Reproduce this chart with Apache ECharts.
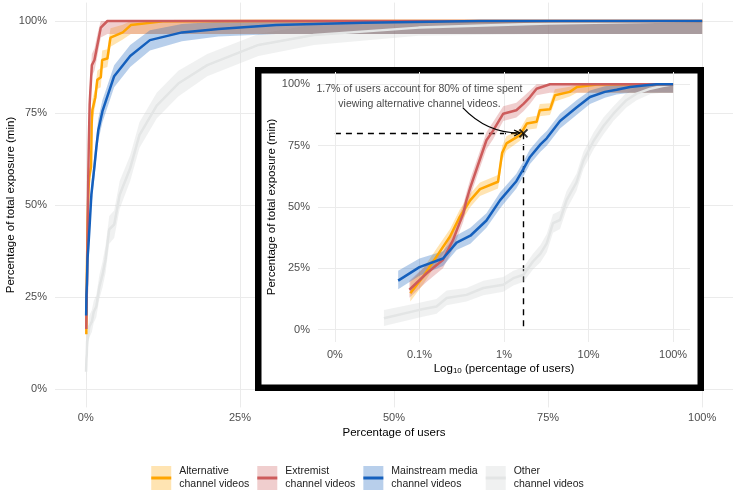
<!DOCTYPE html>
<html>
<head>
<meta charset="utf-8">
<title>Exposure concentration</title>
<style>
	* { margin: 0; padding: 0; }
	html, body { width: 100%; height: 100%; background: #fff; }
	#box { width: 735px; height: 491px; }
</style>
</head>
<body>
<div id="box"></div>
<script src="https://cdn.jsdelivr.net/npm/echarts@6/dist/echarts.min.js"></script>
<script>
// series names, as in the legend
var names = ['Alternative\nchannel videos', 'Extremist\nchannel videos', 'Mainstream media\nchannel videos', 'Other\nchannel videos'];

// x = percentage of users, y = cumulative share of exposure, lo/hi = band
var altX = [0.078, 0.111, 0.159, 0.23, 0.30, 0.40, 0.52, 0.85, 0.95, 1.07, 1.55, 1.86, 2.43, 2.65, 3.5, 4.0, 6.0, 7.3, 12.5, 30, 60, 100];
var altY = [14.9, 21.7, 29.8, 38, 46, 52.8, 57.3, 60.3, 72, 75.9, 79.3, 84, 84.7, 89.4, 89.8, 95.5, 96.9, 98.9, 99.9, 100, 100, 100];
var altLo = [11.5, 18.5, 27, 35, 43, 50, 54.5, 57.5, 69, 73, 77, 81.5, 82, 87, 87.5, 93, 95, 96.5, 96.5, 96.5, 96.5, 96.5];
var altHi = [19.5, 25, 33, 41, 49, 55.5, 60, 63, 75, 78.8, 81.8, 86.5, 87.2, 92, 92.3, 98, 99, 100, 100, 100, 100, 100];

var extX = [0.076, 0.122, 0.19, 0.25, 0.33, 0.36, 0.40, 0.48, 0.62, 0.74, 0.98, 1.4, 1.7, 2.03, 2.43, 3.5, 100];
var extY = [16.3, 23, 28.5, 36.6, 47.4, 52.8, 58, 66, 77.2, 81, 88, 89.4, 92, 94.8, 98.2, 100, 100];
var extLo = [13, 19.5, 25, 33, 44, 49.5, 54.5, 62.5, 73.5, 77.5, 85, 86.5, 89, 92, 95.5, 96.5, 96.5];
var extHi = [20, 26.5, 32, 40, 51, 56, 61.5, 69.5, 80.5, 84.5, 91, 92.5, 95, 97.5, 100, 100, 100];

var mainX = [0.056, 0.1, 0.19, 0.275, 0.4, 0.62, 0.9, 1.4, 1.7, 2.03, 2.7, 3.2, 4.6, 7.2, 10.4, 15.6, 21.5, 30.9, 45, 64, 100];
var mainY = [20, 25.5, 29, 35.5, 38.3, 44.5, 52.8, 60.5, 65.5, 70.4, 75.5, 78, 85, 90.5, 94.8, 96.9, 97.8, 98.9, 99.5, 100, 100];
var mainLo = [16.5, 22, 26, 32.5, 35, 41.5, 49.5, 57.5, 62.5, 67.5, 72.5, 75, 82, 87.5, 92, 94.5, 95.8, 96.5, 96.5, 96.5, 96.5];
var mainHi = [24, 29, 32, 38.5, 41.5, 47.5, 56, 63.5, 68.5, 73.5, 78.5, 81, 88, 93.5, 97.5, 99.2, 99.8, 100, 100, 100, 100];

var othX = [0.038, 0.1, 0.159, 0.21, 0.36, 0.57, 0.98, 1.29, 1.7, 2.2, 2.7, 3.2, 3.8, 4.6, 5.5, 7.2, 8.7, 11.5, 15, 19.7, 28, 37, 54, 75, 100];
var othY = [4.7, 8.1, 9.5, 12.9, 14.2, 17, 18.3, 21, 22.4, 27.8, 31, 35.2, 43.4, 44.7, 52.8, 60, 69, 77, 83, 88, 93.5, 96.2, 98.2, 99.3, 100];
var othLo = [1.5, 5, 6.5, 10, 11.5, 14, 15.5, 18, 19.5, 24.5, 27.5, 31.5, 39.5, 41, 49, 56.5, 65.5, 73.5, 79.5, 85, 90.5, 93.5, 96, 96.5, 96.5];
var othHi = [8, 11, 12.5, 16, 17, 20, 21.5, 24, 25.5, 31, 34.5, 39, 47, 48.5, 56.5, 63.5, 72.5, 80.5, 86.5, 91, 96.5, 99, 100, 100, 100];

// axis ticks
var mainTicks = [0, 25, 50, 75, 100];
var logTicks = [0.01, 0.1, 1, 10, 100];
var logTickText = ['0%', '0.1%', '1%', '10%', '100%'];

// annotation: marked point, note, and curved arrow (start, bend, end)
var markPt = [1.7, 80];
var noteAt = [0.1, 94.9];
var noteText = '1.7% of users account for 80% of time spent\nviewing alternative channel videos.';
var arrowPts = [[0.325, 90.5], [0.63, 80], [1.55, 80.2]];

var lineColors = ['#FFA500', '#CD5C5C', '#1560BD', '#E3E5E5'];
var fillColors = ['rgba(255,165,0,0.3)', 'rgba(205,92,92,0.3)', 'rgba(21,96,189,0.3)', 'rgba(205,210,210,0.3)'];

var groups = [
	[altX, altY, altLo, altHi],
	[extX, extY, extLo, extHi],
	[mainX, mainY, mainLo, mainHi],
	[othX, othY, othLo, othHi]
];
// drawing order: other first, mainstream last
var drawOrder = [3, 0, 1, 2];

var font = 'Liberation Sans, Arial, sans-serif';

function bandRender(xs, lo, hi, fill) {
	return function(params, api) {
		if (params.dataIndex !== 0) return;
		var pts = [];
		for (var i = 0; i < xs.length; i++) pts.push(api.coord([xs[i], hi[i]]));
		for (var j = xs.length - 1; j >= 0; j--) pts.push(api.coord([xs[j], lo[j]]));
		return { type: 'polygon', shape: { points: pts }, style: { fill: fill } };
	};
}

function arrowRender(params, api) {
	if (params.dataIndex !== 0) return;
	var p0 = api.coord(arrowPts[0]);
	var c = api.coord(arrowPts[1]);
	var p1 = api.coord(arrowPts[2]);
	var dx = p1[0] - c[0], dy = p1[1] - c[1];
	var len = Math.sqrt(dx * dx + dy * dy);
	var ux = dx / len, uy = dy / len;
	var hl = 6, hw = 3;
	var a = [p1[0] - ux * hl - uy * hw, p1[1] - uy * hl + ux * hw];
	var b = [p1[0] - ux * hl + uy * hw, p1[1] - uy * hl - ux * hw];
	return {
		type: 'group',
		children: [{
			type: 'bezierCurve',
			shape: { x1: p0[0], y1: p0[1], cpx1: c[0], cpy1: c[1], x2: p1[0], y2: p1[1] },
			style: { stroke: '#000', lineWidth: 1.2, fill: null }
		}, {
			type: 'polyline',
			shape: { points: [a, p1, b] },
			style: { stroke: '#000', lineWidth: 1.2, fill: null }
		}]
	};
}

function logLabel(v) {
	for (var i = 0; i < logTicks.length; i++) {
		if (Math.abs(Math.log10(v) - Math.log10(logTicks[i])) < 0.01) return logTickText[i];
	}
	return '';
}

var series = [];
[0, 1].forEach(function(g) {
	var zb = g === 0 ? 2 : 7;
	drawOrder.forEach(function(k) {
		var d = groups[k];
		series.push({
			name: names[k],
			type: 'custom',
			xAxisIndex: g,
			yAxisIndex: g,
			z: zb,
			silent: true,
			clip: true,
			renderItem: bandRender(d[0], d[2], d[3], fillColors[k]),
			encode: { x: 0, y: [1, 2] },
			data: d[0].map(function(x, i) { return [x, d[2][i], d[3][i]]; })
		});
	});
	drawOrder.forEach(function(k) {
		var d = groups[k];
		series.push({
			name: names[k],
			type: 'line',
			xAxisIndex: g,
			yAxisIndex: g,
			z: zb + 1,
			silent: true,
			symbol: 'none',
			color: lineColors[k],
			lineStyle: { width: 2.5, color: lineColors[k] },
			data: d[0].map(function(x, i) { return [x, d[1][i]]; })
		});
	});
});

// dashed guides and cross in the inset
series.push({
	type: 'scatter',
	xAxisIndex: 1,
	yAxisIndex: 1,
	z: 9,
	silent: true,
	symbol: 'path://M0,0L10,10M10,0L0,10',
	symbolSize: 8,
	itemStyle: { color: 'rgba(0,0,0,0)', borderColor: '#000', borderWidth: 2 },
	data: [markPt],
	markLine: {
		silent: true,
		symbol: 'none',
		label: { show: false },
		lineStyle: { color: '#000', width: 1.4, type: [6, 5] },
		data: [
			[{ coord: [0.01, 80] }, { coord: markPt }],
			[{ coord: markPt }, { coord: [1.7, 0] }]
		]
	}
});
series.push({
	type: 'custom',
	xAxisIndex: 1,
	yAxisIndex: 1,
	z: 9,
	silent: true,
	renderItem: arrowRender,
	data: arrowPts
});
series.push({
	type: 'scatter',
	xAxisIndex: 1,
	yAxisIndex: 1,
	z: 9,
	silent: true,
	symbolSize: 1,
	itemStyle: { color: 'rgba(0,0,0,0)' },
	label: {
		show: true,
		position: 'inside',
		formatter: noteText,
		fontSize: 10.5,
		lineHeight: 15,
		align: 'center',
		color: '#111',
		fontFamily: font
	},
	data: [noteAt]
});

var tickLabel = { color: '#4D4D4D', fontSize: 11, fontFamily: font };
var gridLine = { show: true, lineStyle: { color: '#EBEBEB', width: 1 } };
var titleStyle = { color: '#000', fontSize: 11.5, fontFamily: font };

var option = {
	animation: false,
	textStyle: { fontFamily: font },
	grid: [
		{ left: 55, right: 2, top: 2.6, bottom: 83.6, containLabel: false, outerBoundsMode: 'none' },
		{ left: 318, right: 45, top: 72, bottom: 149, containLabel: false, outerBoundsMode: 'none' }
	],
	xAxis: [{
		type: 'value', gridIndex: 0, min: -5, max: 105,
		axisLine: { show: false },
		axisTick: { show: false, customValues: mainTicks },
		axisLabel: Object.assign({ customValues: mainTicks, margin: 5, formatter: function(v) { return v + '%'; } }, tickLabel),
		splitLine: gridLine,
		name: 'Percentage of users', nameLocation: 'middle', nameGap: 19, nameMoveOverlap: false, nameTextStyle: titleStyle
	}, {
		type: 'log', logBase: 10, gridIndex: 1, min: 0.00631, max: 158.5, z: 6,
		axisLine: { show: false },
		axisTick: { show: false, customValues: logTicks },
		axisLabel: Object.assign({ customValues: logTicks, margin: 7, formatter: logLabel }, tickLabel),
		splitLine: gridLine,
		minorSplitLine: { show: false },
		name: 'Log{s|10} (percentage of users)', nameLocation: 'middle', nameGap: 20, nameMoveOverlap: false,
		nameTextStyle: Object.assign({ rich: { s: { fontSize: 8, padding: [5, 0, 0, 0], verticalAlign: 'top', fontFamily: font, color: '#000' } } }, titleStyle)
	}],
	yAxis: [{
		type: 'value', gridIndex: 0, min: -5, max: 105,
		axisLine: { show: false },
		axisTick: { show: false, customValues: mainTicks },
		axisLabel: Object.assign({ customValues: mainTicks, margin: 8, formatter: function(v) { return v + '%'; } }, tickLabel),
		splitLine: gridLine,
		name: 'Percentage of total exposure (min)', nameLocation: 'middle', nameGap: 38, nameMoveOverlap: false, nameTextStyle: titleStyle
	}, {
		type: 'value', gridIndex: 1, min: -5, max: 105, z: 6,
		axisLine: { show: false },
		axisTick: { show: false, customValues: mainTicks },
		axisLabel: Object.assign({ customValues: mainTicks, margin: 8, formatter: function(v) { return v + '%'; } }, tickLabel),
		splitLine: gridLine,
		name: 'Percentage of total exposure (min)', nameLocation: 'middle', nameGap: 40, nameMoveOverlap: false, nameTextStyle: titleStyle
	}],
	graphic: [{
		type: 'rect', z: 5, silent: true,
		shape: { x: 258.25, y: 70.25, width: 442.5, height: 317.5 },
		style: { fill: '#fff', stroke: '#000', lineWidth: 6.5 }
	}],
	legend: [{
		left: 'center', top: 460, itemWidth: 20, itemHeight: 24, itemGap: 8, selectedMode: false,
		textStyle: { fontSize: 10.5, lineHeight: 13, color: '#222', fontFamily: font, padding: [0, 0, 0, 3] },
		data: names.map(function(n, i) { return { name: n, icon: 'rect', itemStyle: { color: fillColors[i] } }; })
	}, {
		left: 'center', top: 460, itemWidth: 20, itemHeight: 3, itemGap: 8, selectedMode: false,
		textStyle: { fontSize: 10.5, lineHeight: 13, color: 'rgba(0,0,0,0)', fontFamily: font, padding: [0, 0, 0, 3] },
		data: names.map(function(n, i) { return { name: n, icon: 'rect', itemStyle: { color: lineColors[i] } }; })
	}],
	series: series
};

var chart = echarts.init(document.getElementById('box'), null, { renderer: 'canvas' });
chart.setOption(option);
</script>
</body>
</html>
